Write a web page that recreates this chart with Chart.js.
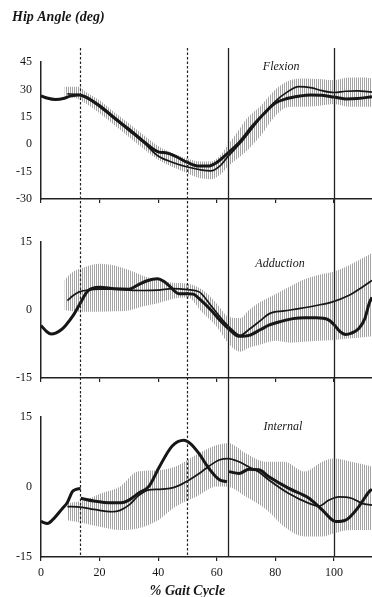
<!DOCTYPE html>
<html>
<head>
<meta charset="utf-8">
<script src="https://cdn.jsdelivr.net/npm/chart.js@4.4.1/dist/chart.umd.min.js"></script>
<style>
  html, body { margin: 0; padding: 0; background: #fff; }
  .panel { position: absolute; left: 0; width: 372px; }
</style>
</head>
<body>
<div class="panel" style="top:0;height:220px"><canvas id="flex"></canvas></div>
<div class="panel" style="top:220px;height:175px"><canvas id="add"></canvas></div>
<div class="panel" style="top:395px;height:202px"><canvas id="int"></canvas></div>
<script>
// gait events (% cycle): dashed = opposite foot events, solid = toe off / heel strike
const eventX = [13.3, 50, 64, 100];
const eventDashed = [true, true, false, false];

// --- Flexion ---
const flexPatX = [0, 2, 5, 8, 10, 13, 15, 20, 25, 30, 35, 40, 43, 46, 50, 54, 57, 60, 64, 68, 72, 76, 80, 84, 88, 92, 96, 100, 104, 108, 113];
const flexPat  = [26.5, 25.3, 24.5, 25.2, 26.3, 27, 26, 21, 14.5, 8.2, 1.5, -4.2, -4.8, -6.7, -10, -12, -12, -10, -4.6, 1.5, 9.5, 16.5, 22.5, 25, 26.3, 27, 26.8, 25.8, 24.8, 25, 26];
const flexMeanX = [9, 13, 15, 20, 25, 30, 35, 40, 45, 50, 55, 58, 61, 64, 68, 72, 76, 80, 84, 88, 92, 96, 100, 104, 108, 113];
const flexMean  = [27.5, 27.2, 25.8, 20.5, 14, 7.5, 1, -6.5, -10, -12.5, -14.2, -14.6, -12, -6.4, 0.5, 8.5, 16.5, 23.5, 28.5, 31.5, 31, 29.3, 28.3, 29, 29.2, 28.5];
const flexBandX = [8, 13, 15, 20, 25, 30, 35, 40, 45, 50, 55, 58, 61, 64, 67, 70, 75, 80, 85, 90, 95, 100, 105, 110, 113];
const flexHi = [31.5, 31.5, 29, 24, 17.5, 11.5, 5, -1, -5, -8, -9.5, -9.5, -6.5, 0, 6.5, 13.5, 21, 30, 35, 36, 35.7, 35, 36.5, 36.5, 36];
const flexLo = [26.5, 24.5, 22.5, 17, 10.5, 4, -2.5, -8.5, -12.5, -16, -18.8, -19.2, -17, -12, -8, -4, 4.6, 15.5, 20.5, 20.5, 21, 22, 20.5, 20.5, 20.5];

// --- Adduction ---
const addPatX = [0, 2, 3.5, 5, 7, 8.4, 11, 13.5, 16, 20, 25, 30, 33, 36, 39.7, 42, 44, 47, 50, 52, 54, 58, 61, 64, 67.6, 71, 75, 78, 82, 86, 90, 94, 98, 100, 102, 104, 106, 108.5, 110.5, 112, 113];
const addPat  = [-3.4, -4.8, -5.3, -5.1, -4.3, -3.4, -1.2, 1.6, 4.2, 5.0, 4.7, 4.6, 5.5, 6.4, 6.9, 6.3, 5.2, 3.6, 3.6, 3.5, 2.5, 0, -2.2, -4.1, -5.8, -5.6, -4.3, -3.3, -2.5, -1.9, -1.7, -1.7, -2.1, -3.2, -4.7, -5.4, -5.1, -4.1, -2, 1.4, 2.8];
const addMeanX = [9, 11, 13, 16, 20, 25, 30, 35, 40, 45, 50, 54, 58, 62, 65, 68, 71, 75, 78, 83, 88, 94, 99.5, 105, 110, 113];
const addMean  = [2.1, 3.2, 4.0, 4.4, 4.6, 4.6, 4.4, 4.3, 4.4, 4.7, 4.5, 4.0, 1.0, -2.2, -4.2, -5.6, -4.3, -2.3, -0.8, -0.2, 0.3, 1.0, 1.8, 3.2, 5.2, 6.5];
const addBandX = [8, 10, 15, 20, 25, 30, 35, 40, 45, 50, 55, 60, 64, 68, 71, 75, 80, 85, 90, 95, 100, 105, 110, 113];
const addHi = [6.5, 8, 9.5, 10.2, 9.8, 8.8, 7.5, 6.6, 6.0, 5.8, 4.5, 1.4, -1.5, -1.8, 0, 1.8, 3.5, 5.2, 6.8, 7.8, 8.5, 9.8, 11.5, 12.6];
const addLo = [0, -0.2, -0.4, -0.4, -0.3, -0.1, 0.8, 1.5, 2.4, 2.8, -0.5, -3.7, -7.4, -9.2, -8.3, -7.6, -6.8, -7.2, -7.0, -6.8, -6.6, -6.3, -6.0, -5.8];

// --- Internal rotation (patient trace breaks at the events) ---
const intPatX = [0, 2.2, 4, 7.3, 9, 10.7, 12, 13.5, 13.55, 13.6, 18, 24.3, 28, 30, 33.4, 36.9, 40.3, 44.8, 48.8, 51, 53.9, 57.3, 60.8, 63.5, 63.9, 64.2, 67.6, 71, 74.4, 77.8, 84.6, 91.5, 96, 100.6, 104, 108.5, 112, 113];
const intPat  = [-7.4, -7.8, -7.0, -4.6, -3.3, -1.0, -0.5, -0.3, null, -2.4, -3.0, -3.4, -3.3, -2.8, -1.3, 0.2, 4.2, 8.8, 10, 9.3, 7.2, 4.0, 1.6, 1.1, null, 3.3, 2.9, 3.8, 3.7, 2.2, -0.3, -2.4, -4.9, -7.4, -7.1, -4.2, -1.0, -0.5];
const intMeanX = [9, 13.5, 18, 24.3, 27, 30, 33.4, 36.9, 40, 44, 47, 50, 54, 57, 60.8, 64, 67.6, 71, 74.4, 77.8, 84.6, 91.5, 94.9, 98.3, 101.7, 106, 109.6, 113];
const intMean  = [-4.2, -4.3, -4.8, -5.3, -5.0, -3.9, -1.8, -0.6, -0.5, -0.3, 0.3, 1.3, 2.9, 4.3, 5.8, 6.1, 5.4, 4.3, 3.2, 1.5, -1.4, -3.5, -4.1, -2.8, -2.1, -2.4, -3.5, -3.9];
const intBandX = [9, 15, 20, 27, 33, 40, 46, 53, 60, 64, 70, 77, 83, 90, 96, 100, 106, 113];
const intHi = [-3.5, -2.8, -1.5, 0.1, 3.3, 3.6, 4.4, 6.9, 9.0, 9.4, 7.2, 5.4, 5.4, 3.3, 5.4, 6.1, 5.4, 4.4];
const intLo = [-7.1, -7.8, -8.5, -9.2, -8.9, -7.1, -4.2, -2.1, 0.1, 0, -2.1, -4.9, -8.5, -10.6, -10.6, -9.9, -9.2, -9.2];

const SERIF = '"Liberation Serif", "DejaVu Serif", serif';
const INK = '#161616';

function pts(xs, ys) {
    return xs.map((x, i) => ({ x: x, y: ys[i] }));
}

// vertical hatching used for the normal band
function hatch() {
    const c = document.createElement('canvas');
    c.width = 2; c.height = 4;
    const g = c.getContext('2d');
    g.fillStyle = 'rgba(90,90,90,0.55)';
    g.fillRect(0, 0, 1, 4);
    return g.createPattern(c, 'repeat');
}
const bandFill = hatch();

const eventLines = {
    id: 'eventLines',
    afterDraw(chart, args, opts) {
        const { ctx, scales: { x } } = chart;
        const top = opts.top;
        const bottom = opts.bottom === 'area' ? chart.chartArea.bottom : chart.height;
        ctx.save();
        eventX.forEach((v, i) => {
            const px = Math.round(x.getPixelForValue(v)) + 0.5;
            ctx.beginPath();
            ctx.strokeStyle = '#222';
            ctx.lineWidth = eventDashed[i] ? 1.2 : 1.3;
            ctx.setLineDash(eventDashed[i] ? [2.5, 2] : []);
            ctx.moveTo(px, top);
            ctx.lineTo(px, bottom);
            ctx.stroke();
        });
        ctx.restore();
    }
};

const panelText = {
    id: 'panelText',
    afterDraw(chart, args, opts) {
        const { ctx, scales: { x, y } } = chart;
        ctx.save();
        ctx.fillStyle = INK;
        ctx.textBaseline = 'middle';
        ctx.textAlign = 'center';
        ctx.font = 'italic 12px ' + SERIF;
        ctx.fillText(opts.name, x.getPixelForValue(opts.at[0]), y.getPixelForValue(opts.at[1]));
        if (opts.title) {
            ctx.textAlign = 'left';
            ctx.font = 'bold italic 14px ' + SERIF;
            ctx.fillText(opts.title, 12, 17);
        }
        if (opts.xTitle) {
            ctx.textAlign = 'center';
            ctx.font = 'bold italic 14px ' + SERIF;
            ctx.fillText(opts.xTitle, x.getPixelForValue(50), chart.height - 6);
        }
        ctx.restore();
    }
};

function panel(id, o) {
    const line = (xs, ys, w) => ({
        data: pts(xs, ys), borderColor: INK, borderWidth: w, pointRadius: 0,
        fill: false, spanGaps: false, cubicInterpolationMode: 'monotone'
    });
    return new Chart(document.getElementById(id), {
        type: 'line',
        data: {
            datasets: [
                line(o.patX, o.pat, 3),
                line(o.meanX, o.mean, 1.7),
                { data: pts(o.bandX, o.hi), borderColor: 'rgba(0,0,0,0)', pointRadius: 0, fill: false, cubicInterpolationMode: 'monotone' },
                { data: pts(o.bandX, o.lo), borderColor: 'rgba(0,0,0,0)', pointRadius: 0, fill: '-1', backgroundColor: bandFill, cubicInterpolationMode: 'monotone' }
            ]
        },
        options: {
            animation: false,
            responsive: true,
            maintainAspectRatio: false,
            layout: { padding: { top: o.padTop, left: 0, right: 0, bottom: 0 } },
            plugins: {
                legend: { display: false },
                tooltip: { enabled: false },
                eventLines: { top: o.lineTop, bottom: o.lineBottom },
                panelText: { name: o.name, at: o.nameAt, title: o.title, xTitle: o.xTitle }
            },
            scales: {
                x: {
                    type: 'linear', min: 0, max: 113,
                    afterFit: s => { s.height = o.xHeight; },
                    ticks: { display: o.showX, stepSize: 20, includeBounds: false, padding: 5, color: INK, font: { family: SERIF, size: 12 } },
                    grid: { drawOnChartArea: false, drawTicks: true, tickLength: 4, color: '#222', lineWidth: 1.2 },
                    border: { color: '#222', width: 1.5 }
                },
                y: {
                    min: o.min, max: o.max,
                    afterFit: s => { s.width = 41; },
                    ticks: { stepSize: 15, padding: 9, color: INK, font: { family: SERIF, size: 12 } },
                    grid: { drawOnChartArea: false, drawTicks: false },
                    border: { color: '#222', width: 1.5 }
                }
            }
        },
        plugins: [eventLines, panelText]
    });
}

panel('flex', {
    patX: flexPatX, pat: flexPat, meanX: flexMeanX, mean: flexMean, bandX: flexBandX, hi: flexHi, lo: flexLo,
    min: -30, max: 45, padTop: 62, xHeight: 21, showX: false, lineTop: 48, lineBottom: 'canvas',
    name: 'Flexion', nameAt: [82, 42.5], title: 'Hip Angle (deg)'
});
panel('add', {
    patX: addPatX, pat: addPat, meanX: addMeanX, mean: addMean, bandX: addBandX, hi: addHi, lo: addLo,
    min: -15, max: 15, padTop: 22, xHeight: 17, showX: false, lineTop: 0, lineBottom: 'canvas',
    name: 'Adduction', nameAt: [81.6, 10.1]
});
panel('int', {
    patX: intPatX, pat: intPat, meanX: intMeanX, mean: intMean, bandX: intBandX, hi: intHi, lo: intLo,
    min: -15, max: 15, padTop: 22, xHeight: 40, showX: true, lineTop: 0, lineBottom: 'area',
    name: 'Internal', nameAt: [82.6, 12.8], xTitle: '% Gait Cycle'
});
</script>
</body>
</html>
